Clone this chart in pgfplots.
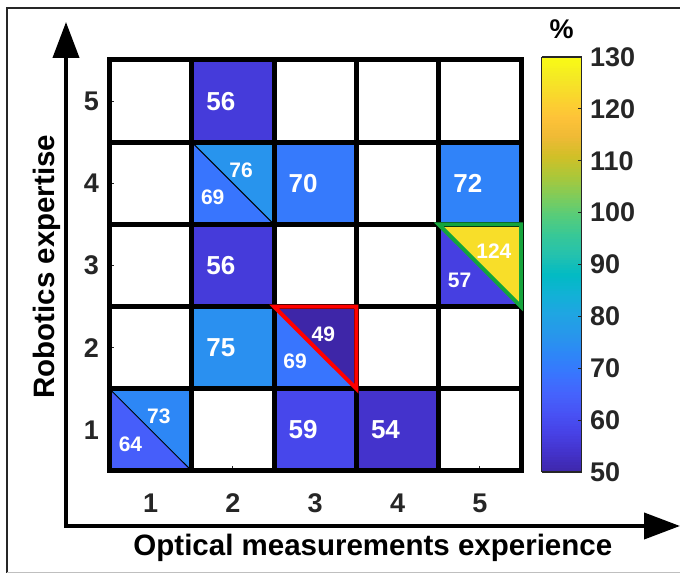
\documentclass[border=0pt]{standalone}
\usepackage{pgfplots}
\pgfplotsset{compat=1.18}
\usepackage{pgfplotstable}
\usepackage{fontspec}
\setmainfont{Liberation Sans}
\usetikzlibrary{arrows.meta}
\definecolor{tickgray}{HTML}{262626}
\definecolor{hlgreen}{RGB}{20,165,60}
\pgfplotsset{
 /pgf/number format/assume math mode=true,
 colormap={parula}{
  rgb=(0.2422,0.1504,0.6603)
  rgb=(0.2647,0.1978,0.7952)
  rgb=(0.2783,0.2559,0.8991)
  rgb=(0.2810,0.3228,0.9579)
  rgb=(0.2699,0.3892,0.9906)
  rgb=(0.2206,0.4603,0.9973)
  rgb=(0.1786,0.5289,0.9682)
  rgb=(0.1540,0.5902,0.9218)
  rgb=(0.1248,0.6459,0.8883)
  rgb=(0.0689,0.6948,0.8394)
  rgb=(0.0067,0.7312,0.7660)
  rgb=(0.1408,0.7584,0.6842)
  rgb=(0.2161,0.7843,0.5923)
  rgb=(0.3406,0.8008,0.4789)
  rgb=(0.5044,0.7993,0.3480)
  rgb=(0.6720,0.7793,0.2227)
  rgb=(0.8203,0.7498,0.1535)
  rgb=(0.9393,0.7288,0.2100)
  rgb=(0.9970,0.7659,0.2199)
  rgb=(0.9786,0.8386,0.1766)
  rgb=(0.9597,0.9135,0.1423)
  rgb=(0.9769,0.9839,0.0805)
 }
}
% full cells: rectangles (4 vertices each)
\pgfplotstableread{
x y c
1.5 4.5 56
2.5 4.5 56
2.5 5.5 56
1.5 5.5 56
1.5 2.5 56
2.5 2.5 56
2.5 3.5 56
1.5 3.5 56
2.5 3.5 70
3.5 3.5 70
3.5 4.5 70
2.5 4.5 70
4.5 3.5 72
5.5 3.5 72
5.5 4.5 72
4.5 4.5 72
1.5 1.5 75
2.5 1.5 75
2.5 2.5 75
1.5 2.5 75
2.5 0.5 59
3.5 0.5 59
3.5 1.5 59
2.5 1.5 59
3.5 0.5 54
4.5 0.5 54
4.5 1.5 54
3.5 1.5 54
}\fullcells
% split cells: triangles (3 vertices each)
\pgfplotstableread{
x y c
0.5 1.5 64
0.5 0.5 64
1.5 0.5 64
0.5 1.5 73
1.5 1.5 73
1.5 0.5 73
1.5 4.5 69
1.5 3.5 69
2.5 3.5 69
1.5 4.5 76
2.5 4.5 76
2.5 3.5 76
2.5 2.5 69
2.5 1.5 69
3.5 1.5 69
2.5 2.5 49
3.5 2.5 49
3.5 1.5 49
4.5 3.5 57
4.5 2.5 57
5.5 2.5 57
4.5 3.5 124
5.5 3.5 124
5.5 2.5 124
}\splitcells
\pgfplotstableread{
x y t
1.675 5 56
1.675 3 56
2.675 4 70
4.675 4 72
1.675 2 75
2.675 1 59
3.675 1 54
}\fulllabels
\pgfplotstableread{
x y t
0.955 1.16 73
1.955 4.16 76
2.955 2.16 49
4.955 3.17 124
0.61 0.83 64
1.61 3.83 69
2.61 1.83 69
4.61 2.82 57
}\splitlabels
\begin{document}
\begin{tikzpicture}[x=1pt,y=1pt]
\path[use as bounding box] (0,0) rectangle (680,575);
\draw[line width=1.2pt, color=black!85] (7,2) -- (7,567) -- (700,567);
\draw[line width=1pt, color=black!25] (7,2) -- (700,2);
\draw[line width=4pt, line join=miter, {Triangle[width=26pt,length=36pt]}-{Triangle[width=26pt,length=36pt]}] (66,553) -- (66,49) -- (680,49);
\begin{axis}[
 at={(109.5pt,104pt)}, anchor=south west,
 width=411.5pt, height=411pt, scale only axis,
 xmin=0.5, xmax=5.5, ymin=0.5, ymax=5.5,
 clip=false,
 axis line style={draw=none},
 xtick={1,...,5}, ytick={1,...,5},
 tick align=inside, xtick pos=bottom, ytick pos=left,
 major tick length=5pt,
 tick style={color=tickgray, line width=1pt},
 ticklabel style={font=\fontsize{27}{30}\selectfont\bfseries, text=tickgray},
 xticklabel style={yshift=-19pt},
 yticklabel style={xshift=-7pt},
 xlabel={Optical measurements experience},
 ylabel={Robotics expertise},
 label style={font=\fontsize{29.5}{34}\selectfont\bfseries},
 xlabel style={at={(axis description cs:0.64,-0.188)}, anchor=center},
 ylabel style={at={(axis description cs:-0.152,0.497)}, anchor=center},
 colormap name=parula,
 point meta min=50, point meta max=130,
 colorbar sampled,
 colorbar style={
   at={(parent axis.south east)}, anchor=south west,
   xshift=12pt, yshift=-1pt,
   scale only axis, width=40pt, height=415pt,
   samples=161,
   ytick={50,60,...,130},
   ytick pos=right, yticklabel pos=right, ytick align=inside,
   major tick length=4pt,
   tick style={color=tickgray, line width=1pt},
   axis line style={draw=tickgray, line width=1.2pt},
   yticklabel style={xshift=5pt, font=\fontsize{27}{30}\selectfont\bfseries, text=tickgray},
   title={\%},
   title style={at={(0.5,1)}, anchor=south, xshift=0pt, yshift=9pt, font=\fontsize{27}{30}\selectfont\bfseries},
 },
]
\addplot[patch, patch type=rectangle, shader=flat, point meta=explicit] table[meta=c] {\fullcells};
\addplot[patch, patch type=triangle, shader=flat, point meta=explicit] table[meta=c] {\splitcells};
\draw[line width=1pt] (0.5,1.5) -- (1.5,0.5);
\draw[line width=1pt] (1.5,4.5) -- (2.5,3.5);
\draw[line width=5pt, line cap=rect] (0.5,0.5) -- (0.5,5.5);
\draw[line width=5pt, line cap=rect] (1.5,0.5) -- (1.5,5.5);
\draw[line width=5pt, line cap=rect] (2.5,0.5) -- (2.5,5.5);
\draw[line width=5pt, line cap=rect] (3.5,0.5) -- (3.5,5.5);
\draw[line width=5pt, line cap=rect] (4.5,0.5) -- (4.5,5.5);
\draw[line width=5pt, line cap=rect] (5.5,0.5) -- (5.5,5.5);
\draw[line width=5pt, line cap=rect] (0.5,0.5) -- (5.5,0.5);
\draw[line width=5pt, line cap=rect] (0.5,1.5) -- (5.5,1.5);
\draw[line width=5pt, line cap=rect] (0.5,2.5) -- (5.5,2.5);
\draw[line width=5pt, line cap=rect] (0.5,3.5) -- (5.5,3.5);
\draw[line width=5pt, line cap=rect] (0.5,4.5) -- (5.5,4.5);
\draw[line width=5pt, line cap=rect] (0.5,5.5) -- (5.5,5.5);
\draw[red, line width=4pt, line join=miter] (2.5,2.5) -- (3.5,2.5) -- (3.5,1.5) -- cycle;
\draw[hlgreen, line width=4pt, line join=miter] (4.5,3.5) -- (5.5,3.5) -- (5.5,2.5) -- cycle;
\addplot[draw=none, mark=none, nodes near coords, point meta=explicit symbolic,
  every node near coord/.append style={anchor=west, inner sep=0pt, text=white, font=\fontsize{26}{30}\selectfont\bfseries}]
  table[meta=t] {\fulllabels};
\addplot[draw=none, mark=none, nodes near coords, point meta=explicit symbolic,
  every node near coord/.append style={anchor=west, inner sep=0pt, text=white, font=\fontsize{21}{25}\selectfont\bfseries}]
  table[meta=t] {\splitlabels};
\end{axis}
\end{tikzpicture}
\end{document}
